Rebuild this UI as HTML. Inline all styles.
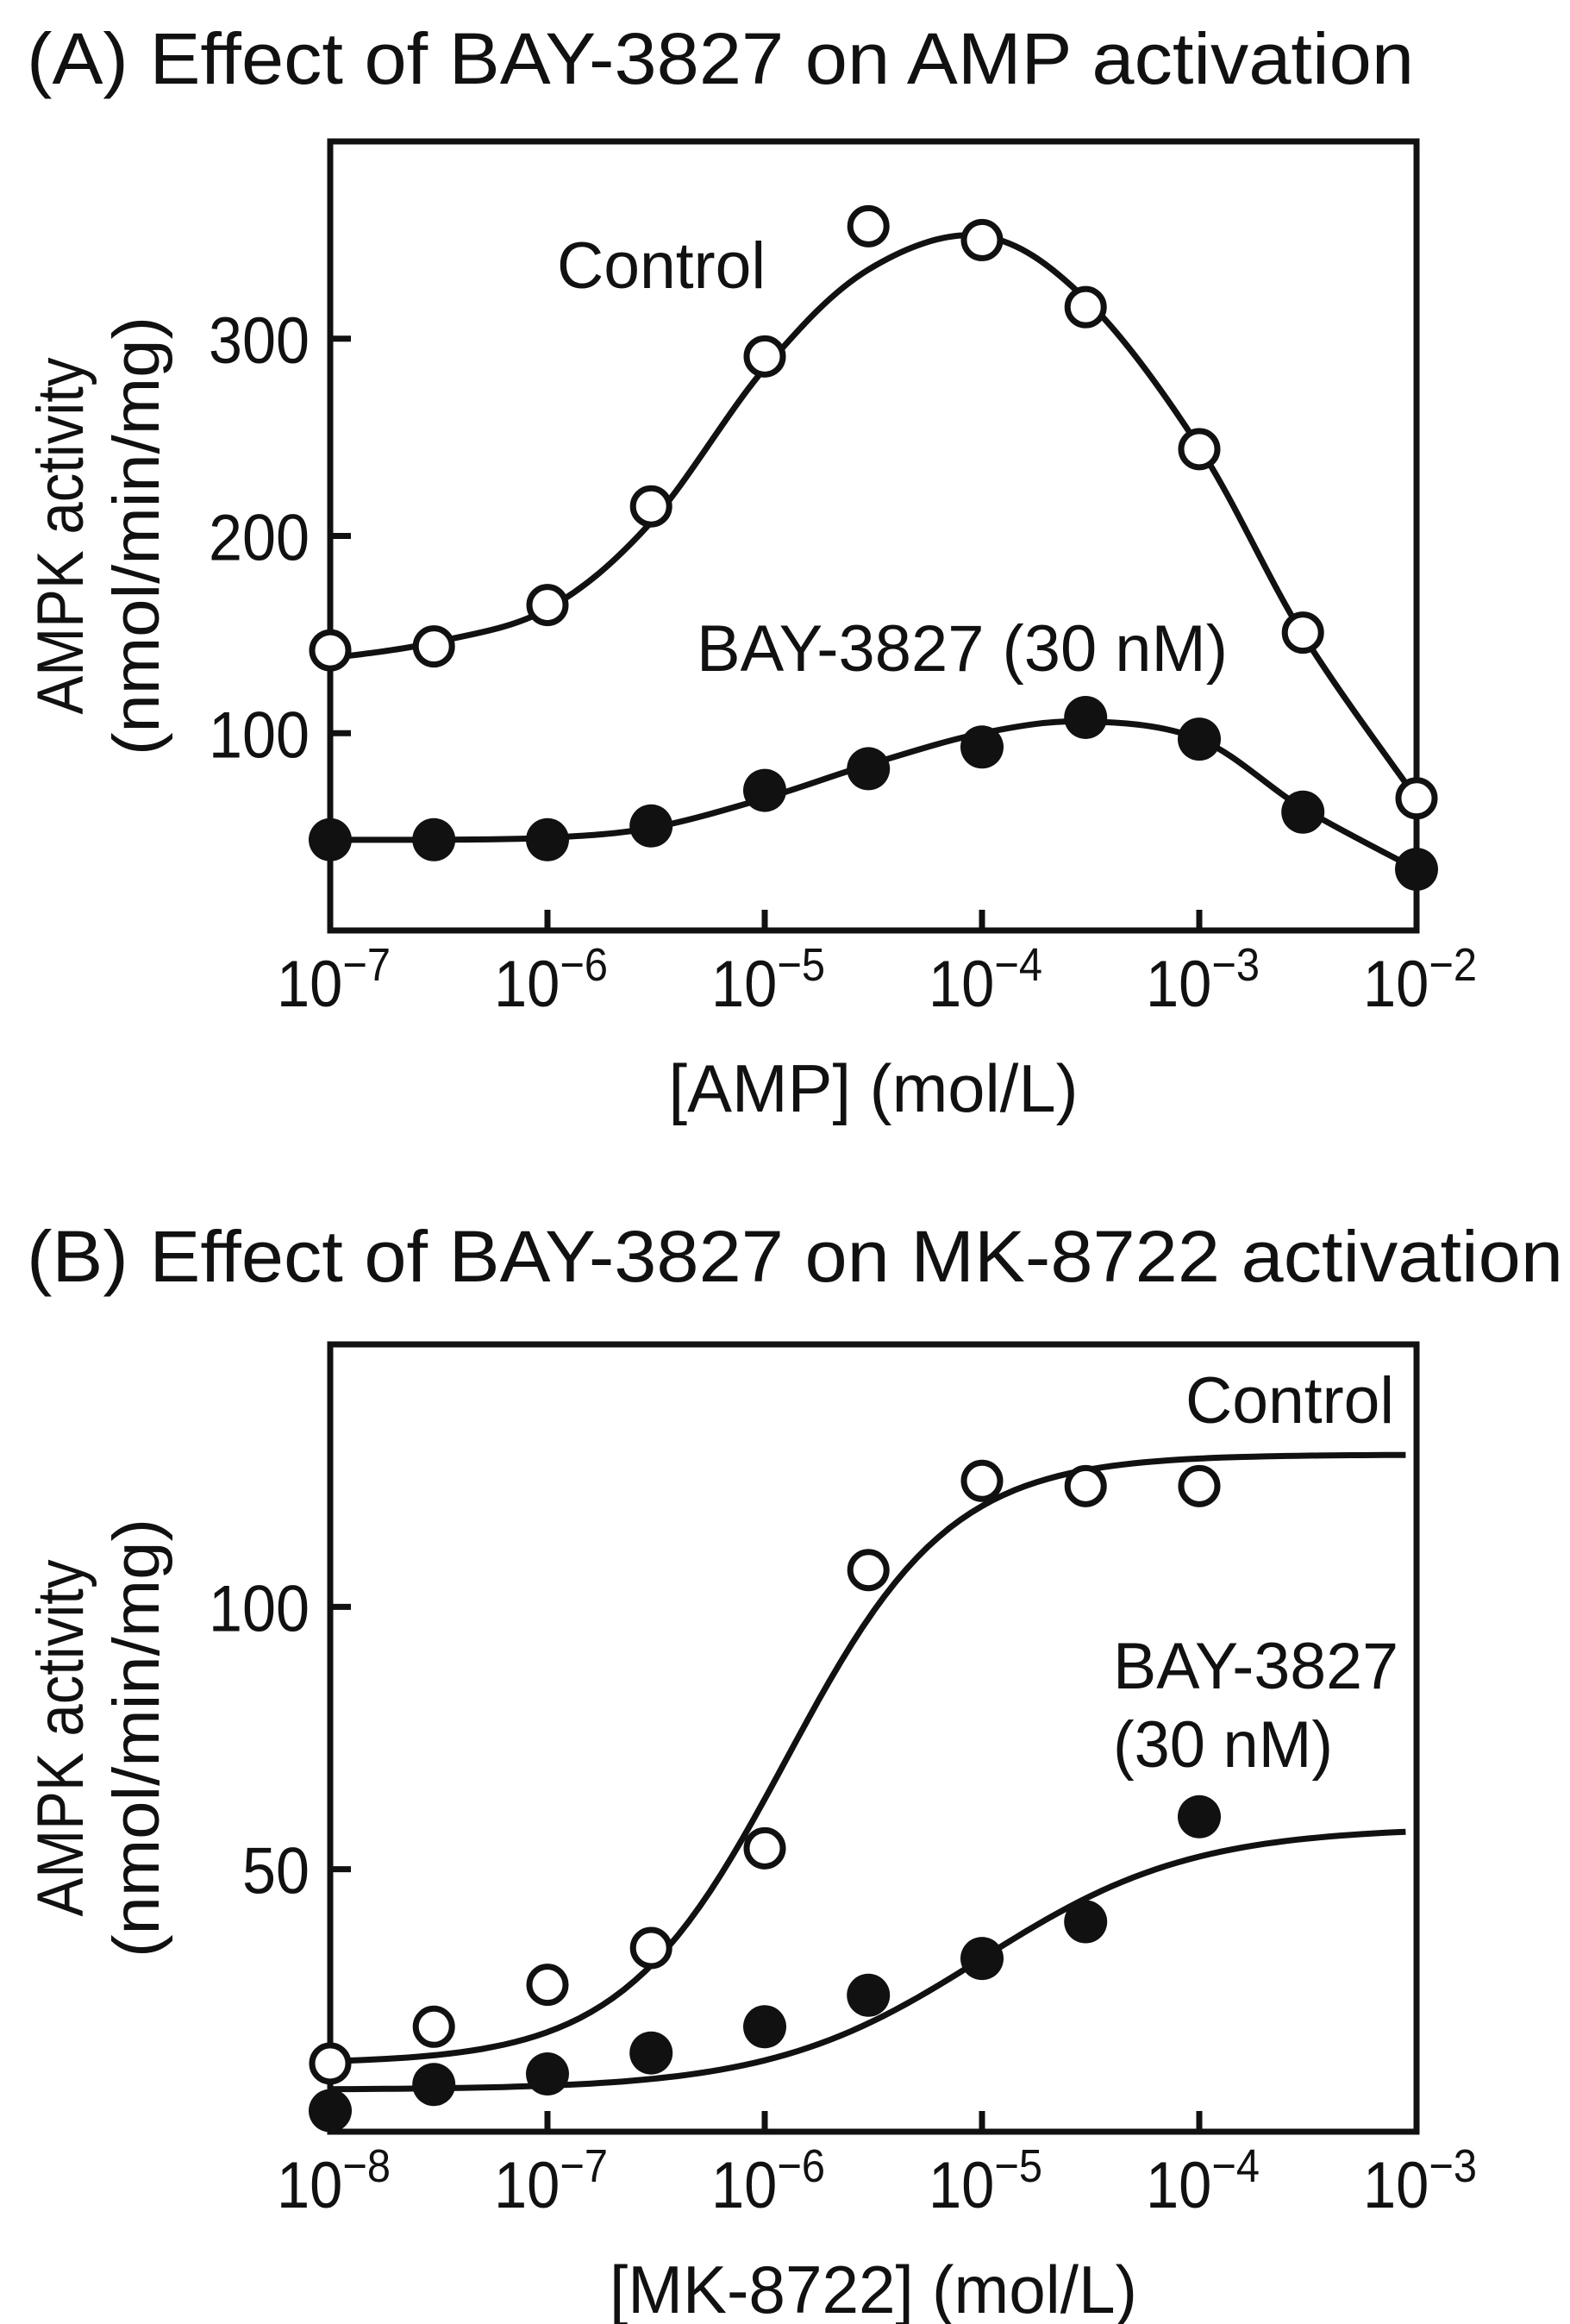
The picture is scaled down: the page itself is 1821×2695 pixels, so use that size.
<!DOCTYPE html>
<html><head><meta charset="utf-8"><style>
html,body{margin:0;padding:0;background:#fff}
svg{display:block}
text{font-family:"Liberation Sans",Arial,sans-serif;fill:#111}
</style></head><body>
<svg id="fig" width="1821" height="2695" viewBox="0 0 1821 2695" xmlns="http://www.w3.org/2000/svg">
<text x="31" y="97" font-size="84" textLength="1609" lengthAdjust="spacingAndGlyphs">(A) Effect of BAY-3827 on AMP activation</text>
<text x="31" y="1486" font-size="84" textLength="1782" lengthAdjust="spacingAndGlyphs">(B) Effect of BAY-3827 on MK-8722 activation</text>
<g id="pa"></g>
<g id="pb"></g>
</svg>
<script>
// Panel A data
const aX = [-7, -6.523, -6, -5.523, -5, -4.523, -4, -3.523, -3, -2.523, -2];
const aControl = [142, 144, 165, 215, 291, 357, 350, 316, 244, 151, 67];
const aBay = [46, 46, 46, 53, 71, 82, 93, 108, 97, 60, 31];
const aControlFit = [138, 146, 163, 207, 285, 335, 352, 320, 245, 150, 67];
const aBayFit = [46, 46, 47, 52, 67, 84, 100, 106, 97, 62, 31];
const aXTicks = [-7, -6, -5, -4, -3, -2];
const aYTicks = [100, 200, 300];
// Panel B data
const bX = [-8, -7.523, -7, -6.523, -6, -5.523, -5, -4.523, -4];
const bControl = [13, 20, 28, 35, 54, 107, 124, 123, 123];
const bBay = [4, 9, 11, 15, 20, 26, 33, 40, 60];
const bControlHill = [13, 129, -5.9, 1.15];   // bottom, top, logEC50, slope
const bBayHill = [8, 58, -5.0, 0.9];
const bXTicks = [-8, -7, -6, -5, -4, -3];
const bYTicks = [50, 100];

const NS = "http://www.w3.org/2000/svg";
function mk(parent, tag, attrs) {
  const e = document.createElementNS(NS, tag);
  for (const k in attrs) e.setAttribute(k, attrs[k]);
  parent.appendChild(e);
  return e;
}
function catmull(pts) {
  let d = "M" + pts[0][0] + "," + pts[0][1];
  for (let i = 0; i < pts.length - 1; i++) {
    const p0 = pts[Math.max(0, i - 1)], p1 = pts[i], p2 = pts[i + 1], p3 = pts[Math.min(pts.length - 1, i + 2)];
    const c1 = [p1[0] + (p2[0] - p0[0]) / 6, p1[1] + (p2[1] - p0[1]) / 6];
    const c2 = [p2[0] - (p3[0] - p1[0]) / 6, p2[1] - (p3[1] - p1[1]) / 6];
    d += " C" + c1 + " " + c2 + " " + p2;
  }
  return d;
}
function drawAxes(g, L, R, T, B, xmin, xmax, ymax, xTicks, yTicks, xTitle, xTitleLen) {
  const sx = v => L + (v - xmin) / (xmax - xmin) * (R - L);
  const sy = v => B - v / ymax * (B - T);
  const box = mk(g, "rect", {x: L, y: T, width: R - L, height: B - T, fill: "none", stroke: "#111", "stroke-width": 7});
  
  
  xTicks.forEach(t => {
    const ln = mk(g, "line", {x1: sx(t), x2: sx(t), y1: B, y2: B - 24, stroke: "#111", "stroke-width": 7});
    
    
    const tx = mk(g, "text", {x: sx(t) - 62, y: B + 88, "font-size": 76, textLength: 132, lengthAdjust: "spacingAndGlyphs"});
    
    
    tx.appendChild(document.createTextNode("10"));
    const sup = mk(tx, "tspan", {dy: -30, "font-size": 54});
    sup.textContent = "\u2212" + Math.abs(t);
  });
  yTicks.forEach(t => {
    const ln = mk(g, "line", {x1: L, x2: L + 24, y1: sy(t), y2: sy(t), stroke: "#111", "stroke-width": 7});
    
    
    const s = String(t);
    const tx = mk(g, "text", {x: L - 24, y: sy(t) + 28, "font-size": 76, "text-anchor": "end", textLength: s.length * 39, lengthAdjust: "spacingAndGlyphs"});
    
    
    tx.textContent = s;
  });
  const xt = mk(g, "text", {x: (L + R) / 2, y: B + 210, "font-size": 78, "text-anchor": "middle", textLength: xTitleLen, lengthAdjust: "spacingAndGlyphs"});
  
  
  xt.textContent = xTitle;
  const cy = (T + B) / 2;
  const y1 = mk(g, "text", {x: 0, y: 0, "font-size": 76, "text-anchor": "middle", textLength: 414, lengthAdjust: "spacingAndGlyphs", transform: `translate(96,${cy}) rotate(-90)`});
  
  
  y1.textContent = "AMPK activity";
  const y2 = mk(g, "text", {x: 0, y: 0, "font-size": 76, "text-anchor": "middle", textLength: 509, lengthAdjust: "spacingAndGlyphs", transform: `translate(184,${cy}) rotate(-90)`});
  
  
  y2.textContent = "(nmol/min/mg)";
  return [sx, sy];
}
function pts(g, xs, ys, sx, sy, filled, name) {
  xs.forEach((x, i) => {
    const c = mk(g, "circle", {cx: sx(x), cy: sy(ys[i]), r: filled ? 25 : 21, fill: filled ? "#111" : "#fff", stroke: "#111", "stroke-width": filled ? 0 : 7});
    
    
  });
}
function label(g, name, txt, x, y, len, anchor) {
  const t = mk(g, "text", {x: x, y: y, "font-size": 76, "text-anchor": anchor, textLength: len, lengthAdjust: "spacingAndGlyphs"});
  
  
  t.textContent = txt;
}
// Panel A
(function () {
  const g = document.getElementById("pa");
  const [sx, sy] = drawAxes(g, 383, 1643, 164, 1079, -7, -2, 400, aXTicks, aYTicks, "[AMP] (mol/L)", 475);
  [[aControlFit, "control-fit-curve"], [aBayFit, "bay3827-fit-curve"]].forEach(([f, n]) => {
    const p = mk(g, "path", {d: catmull(aX.map((x, i) => [sx(x), sy(f[i])])), fill: "none", stroke: "#111", "stroke-width": 7});
    
    
  });
  pts(g, aX, aControl, sx, sy, false, "control-point");
  pts(g, aX, aBay, sx, sy, true, "bay3827-point");
  label(g, 'control-label', 'Control', 646, 334, 242, 'start');
  label(g, 'bay3827-label', 'BAY-3827 (30 nM)', 808, 778, 616, 'start');
})();
// Panel B
(function () {
  const g = document.getElementById("pb");
  const [sx, sy] = drawAxes(g, 383, 1643, 1559, 2472, -8, -3, 150, bXTicks, bYTicks, "[MK-8722] (mol/L)", 612);
  [[bControlHill, "control-fit-curve"], [bBayHill, "bay3827-fit-curve"]].forEach(([h, n]) => {
    const pp = [];
    for (let x = -8; x <= -3.0001; x += 0.05) {
      const y = h[0] + (h[1] - h[0]) / (1 + Math.pow(10, (h[2] - x) * h[3]));
      pp.push((pp.length ? "L" : "M") + sx(x).toFixed(1) + "," + sy(y).toFixed(1));
    }
    const p = mk(g, "path", {d: pp.join(" "), fill: "none", stroke: "#111", "stroke-width": 7});
    
    
  });
  pts(g, bX, bControl, sx, sy, false, "control-point");
  pts(g, bX, bBay, sx, sy, true, "bay3827-point");
  label(g, 'control-label', 'Control', 1617, 1650, 242, 'end');
  label(g, 'bay3827-label', 'BAY-3827', 1291, 1958, 331, 'start');
  label(g, 'bay3827-concentration-label', '(30 nM)', 1291, 2049, 255, 'start');
})();
</script>
</body></html>
